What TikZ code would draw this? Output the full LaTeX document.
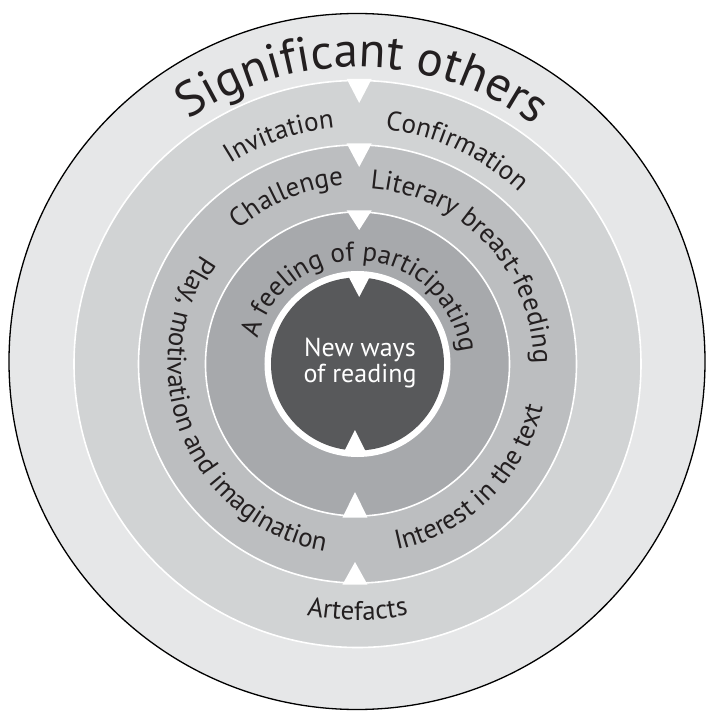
\documentclass[tikz,border=0pt]{standalone}
\usepackage{fontspec}
\setmainfont{PT Sans}
\usetikzlibrary{decorations.text}
\definecolor{ringO}{HTML}{E6E7E8}
\definecolor{ringA}{HTML}{D1D3D4}
\definecolor{ringB}{HTML}{BCBEC0}
\definecolor{ringC}{HTML}{A7A9AC}
\definecolor{core}{HTML}{58595B}
\definecolor{ink}{HTML}{231F20}
\newcommand\ringfont{\fontsize{27}{30}\selectfont\color{ink}}
\newcommand\bigfont{\fontsize{49}{55}\selectfont\color{ink}}
% clockwise arc text (reads left to right over the top)
\newcommand\cwtext[4]{%
  \pgfmathsetmacro\myAs{#1+#3}\pgfmathsetmacro\myAe{#1-#3}%
  \path[decorate,decoration={text along path,text={#4},text align=center}]
    (\myAs:#2pt) arc[start angle=\myAs,end angle=\myAe,radius=#2pt];}
% counter-clockwise arc text (reads left to right under the bottom)
\newcommand\ccwtext[4]{%
  \pgfmathsetmacro\myAs{#1-#3}\pgfmathsetmacro\myAe{#1+#3}%
  \path[decorate,decoration={text along path,text={#4},text align=center}]
    (\myAs:#2pt) arc[start angle=\myAs,end angle=\myAe,radius=#2pt];}
\begin{document}
\begin{tikzpicture}[x=1pt,y=1pt,
  ringline/.style={draw=white,line width=1.6pt},
  notch/.style={fill=white,draw=none},
  coretext/.style={text=white,font=\fontsize{26}{26}\selectfont,anchor=base,inner sep=0pt}]
\useasboundingbox (-357.5,-348) rectangle (349.5,364);
% rings
\filldraw[fill=ringO,draw=black,line width=1.3pt] (-0.5,2.5) circle[radius=348pt];
\filldraw[fill=ringA,ringline] (0,0) circle[radius=283.5pt];
\filldraw[fill=ringB,ringline] (0,0) circle[radius=219pt];
\filldraw[fill=ringC,ringline] (0,0) circle[radius=152pt];
\fill[white] (0,0) circle[radius=93pt];
\fill[core] (0,0) circle[radius=86.5pt];
% notches top
\fill[notch] (1.7-12.5,285) -- (1.7+12.5,285) -- (1.7,261) -- cycle;
\fill[notch] (1.7-12.5,220.5) -- (1.7+12.5,220.5) -- (1.7,197) -- cycle;
\fill[notch] (1.7-12.5,153.5) -- (1.7+12.5,153.5) -- (1.7,134) -- cycle;
\fill[notch] (1.7-11.5,89) -- (1.7+11.5,89) -- (1.7,67) -- cycle;
% notches bottom
\fill[notch] (-2.5-11.5,-89) -- (-2.5+11.5,-89) -- (-2.5,-66) -- cycle;
\fill[notch] (-2.5-12.5,-153.5) -- (-2.5+12.5,-153.5) -- (-2.5,-128) -- cycle;
\fill[notch] (-2.5-12.5,-220.5) -- (-2.5+12.5,-220.5) -- (-2.5,-198) -- cycle;
% texts
\cwtext{89}{297}{80}{|\bigfont|Significant others}
\cwtext{109}{237}{40}{|\ringfont|Invitation}
\cwtext{65}{236}{40}{|\ringfont|Confirmation}
\cwtext{113}{179}{40}{|\ringfont|Challenge}
\cwtext{43}{176}{60}{|\ringfont|Literary breast-feeding}
\cwtext{86}{103}{88}{|\ringfont|A feeling of participating}
\ccwtext{202.5}{190}{75}{|\ringfont|Play, motivation and imagination}
\ccwtext{314.5}{190}{45}{|\ringfont|Interest in the text}
\ccwtext{270}{256}{30}{|\ringfont|Artefacts}
\node[coretext] (nw) at (2.5,7) {New ways};
\node[coretext] (or) at (2.5,-19) {of reading};
\end{tikzpicture}
\end{document}
